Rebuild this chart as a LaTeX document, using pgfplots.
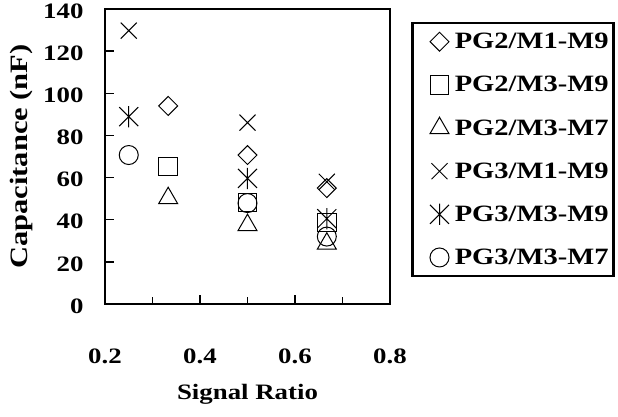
\documentclass[border=0pt]{standalone}
\usepackage{fontspec}
\setmainfont{Liberation Serif}[FakeStretch=1.22]
\usepackage{pgfplots}
\pgfplotsset{compat=1.18}
\pgfdeclareplotmark{xbar}{%
  \pgfpathmoveto{\pgfqpoint{-\pgfplotmarksize}{-\pgfplotmarksize}}%
  \pgfpathlineto{\pgfqpoint{\pgfplotmarksize}{\pgfplotmarksize}}%
  \pgfpathmoveto{\pgfqpoint{-\pgfplotmarksize}{\pgfplotmarksize}}%
  \pgfpathlineto{\pgfqpoint{\pgfplotmarksize}{-\pgfplotmarksize}}%
  \pgfpathmoveto{\pgfqpoint{0pt}{-1.12\pgfplotmarksize}}%
  \pgfpathlineto{\pgfqpoint{0pt}{1.12\pgfplotmarksize}}%
  \pgfusepathqstroke}
\newcommand\tf{\fontsize{22}{24}\selectfont\bfseries}
\newcommand\legf{\fontsize{23.4}{25}\selectfont\bfseries}
\newcommand\xlf{\fontsize{22}{24}\selectfont\bfseries}
\newcommand\ylf{\fontsize{25}{27}\selectfont\bfseries}
\begin{document}
\begin{tikzpicture}
\useasboundingbox (-105pt,-113pt) rectangle (513pt,304pt);
\begin{axis}[
  at={(0,0)}, anchor=south west,
  scale only axis, width=285pt, height=295pt,
  xmin=0.2, xmax=0.8, ymin=0, ymax=140,
  xtick={0.2,0.4,0.6,0.8}, minor xtick={0.3,0.5,0.7},
  ytick={0,20,...,140},
  tick align=inside, xtick pos=bottom, ytick pos=left,
  major tick length=9pt, minor tick length=7pt,
  axis line style={line width=2.5pt},
  every tick/.style={line width=1.5pt, black},
  /pgf/number format/assume math mode=true,
  tick label style={font=\tf},
  xticklabel style={/pgf/number format/.cd, fixed, fixed zerofill, precision=1, /tikz/.cd, yshift=-41pt},
  yticklabel style={xshift=-18pt, yshift=-2pt},
  xlabel={Signal Ratio}, ylabel={Capacitance (nF)},
  xlabel style={font=\xlf, at={(axis description cs:0.5,-0.305)}, anchor=center},
  ylabel style={font=\ylf, at={(axis description cs:-0.292,0.5)}, anchor=center},
  legend style={at={(axis description cs:1.0737,0.956)}, anchor=north west,
    draw=black, line width=2.5pt, font=\legf, inner xsep=3pt, inner ysep=8pt,
    row sep=22pt, cells={anchor=west}},
  legend image code/.code={\path (0pt,0pt) (35pt,0pt); \draw[#1] plot coordinates {(23pt,0pt)};},
]
\addplot[only marks, mark=square, mark size=6.7pt, mark options={rotate=45, line width=1pt, black}] coordinates {(0.333,94) (0.5,70.7) (0.667,55)};
\addlegendentry{PG2/M1-M9}
\addplot[only marks, mark=square, mark size=9.3pt, mark options={line width=1pt, black}] coordinates {(0.333,65.2) (0.5,48.2) (0.667,38.7)};
\addlegendentry{PG2/M3-M9}
\addplot[only marks, mark=triangle, mark size=11pt, mark options={line width=1pt, black}] coordinates {(0.333,50.2) (0.5,37.4) (0.667,28.6)};
\addlegendentry{PG2/M3-M7}
\addplot[only marks, mark=x, mark size=11.3pt, mark options={line width=1pt, black}] coordinates {(0.25,129.7) (0.5,86.1) (0.667,58)};
\addlegendentry{PG3/M1-M9}
\addplot[only marks, mark=xbar, mark size=9.5pt, mark options={line width=1pt, black}] coordinates {(0.25,88.9) (0.5,59.6) (0.667,40.5)};
\addlegendentry{PG3/M3-M9}
\addplot[only marks, mark=o, mark size=9.5pt, mark options={line width=1pt, black}] coordinates {(0.25,70.7) (0.5,47.9) (0.667,32)};
\addlegendentry{PG3/M3-M7}
\end{axis}
\end{tikzpicture}
\end{document}
